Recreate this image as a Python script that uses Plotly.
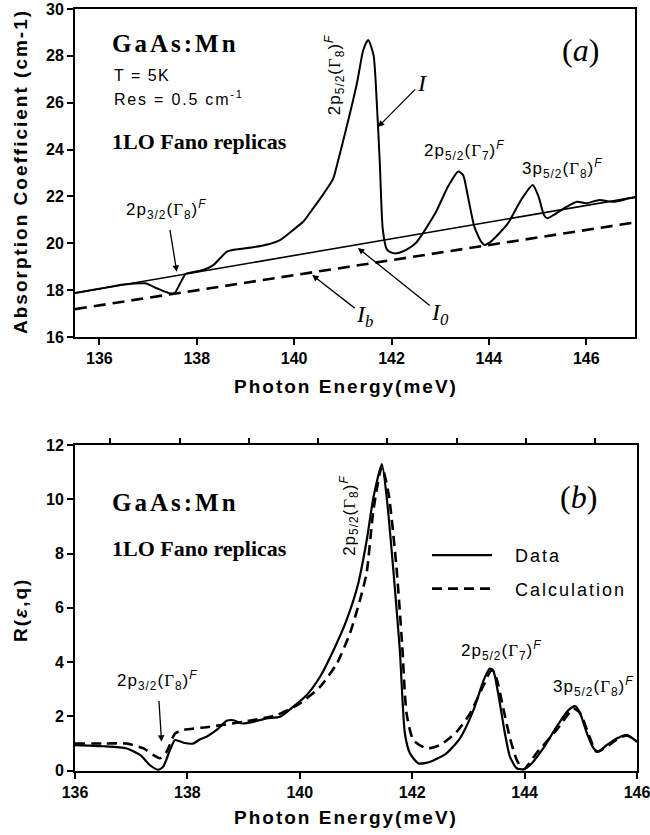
import plotly.graph_objects as go

# ---------------- data ----------------
# Panel (a): absorption spectrum I, background lines I0 and Ib
energy_a = [135.5, 136.0, 136.5, 136.94, 137.18, 137.45, 137.55, 137.66, 137.77, 137.86, 138.13, 138.34,
            138.62, 138.82, 139.15, 139.45, 139.71, 139.98, 140.2, 140.39, 140.6, 140.8, 140.9, 141.08,
            141.29, 141.42, 141.52, 141.63, 141.7, 141.76, 141.82, 141.9, 142.0, 142.1, 142.3, 142.5,
            142.9, 143.16, 143.37, 143.47, 143.57, 143.7, 143.84, 143.91, 144.04, 144.39, 144.66, 144.9,
            145.02, 145.13, 145.2, 145.33, 145.6, 145.81, 146.0, 146.27, 146.55, 146.88, 147.0]
absorption_I = [17.88, 18.06, 18.24, 18.29, 18.08, 17.86, 17.89, 18.29, 18.69, 18.74, 18.86, 19.07,
                19.64, 19.74, 19.83, 19.95, 20.14, 20.57, 20.95, 21.49, 22.1, 22.75, 23.5, 24.98,
                26.83, 28.25, 28.68, 28.04, 25.9, 23.4, 20.6, 19.75, 19.6, 19.57, 19.72, 20.01,
                21.29, 22.42, 23.06, 22.91, 21.99, 20.71, 20.07, 19.93, 20.07, 20.85, 21.85, 22.49,
                21.99, 21.21, 21.07, 21.21, 21.56, 21.77, 21.71, 21.85, 21.77, 21.92, 21.97]
line_energy = [135.5, 147.0]
I0_values = [17.88, 21.97]
Ib_values = [17.19, 20.89]

# Panel (b): R(eps,q) data and calculation
energy_data = [136.0, 136.5, 136.92, 137.16, 137.33, 137.48, 137.57, 137.69, 137.78, 137.93, 138.1, 138.22,
               138.34, 138.52, 138.7, 138.82, 138.97, 139.17, 139.41, 139.65, 139.88, 140.12, 140.36, 140.6,
               140.83, 141.04, 141.19, 141.31, 141.46, 141.55, 141.66, 141.78, 141.87, 141.96, 142.11,
               142.32, 142.61, 142.85, 143.09, 143.27, 143.38, 143.44, 143.53, 143.65, 143.74, 143.86,
               143.98, 144.1, 144.33, 144.57, 144.78, 144.9, 144.99, 145.11, 145.23, 145.31, 145.46,
               145.64, 145.82, 146.0]
R_data = [0.94, 0.9, 0.82, 0.58, 0.21, 0.03, 0.15, 0.76, 1.13, 1.03, 1.0, 1.15,
          1.25, 1.5, 1.84, 1.86, 1.74, 1.8, 1.93, 1.99, 2.35, 2.78, 3.46, 4.44,
          5.54, 6.9, 8.48, 10.07, 11.3, 10.0, 7.5, 4.44, 1.37, 0.64, 0.27,
          0.33, 0.64, 1.19, 2.23, 3.33, 3.76, 3.7, 2.84, 1.37, 0.51, 0.09,
          0.05, 0.21, 0.82, 1.62, 2.23, 2.38, 2.11, 1.37, 0.82, 0.7, 0.94,
          1.19, 1.31, 1.07]
energy_calc = [136.0, 136.5, 136.92, 137.22, 137.39, 137.51, 137.63, 137.78, 137.93, 138.4, 138.99, 139.59,
               140.0, 140.36, 140.66, 140.89, 141.07, 141.19, 141.31, 141.46, 141.58, 141.72, 141.82, 141.9,
               142.02, 142.26, 142.49, 142.79, 143.03, 143.27, 143.41, 143.5, 143.62, 143.74, 143.86,
               143.98, 144.21, 144.57, 144.87, 144.99, 145.12, 145.28, 145.46, 145.64, 145.82, 146.0]
R_calc = [1.0, 1.0, 1.0, 0.82, 0.58, 0.46, 0.7, 1.37, 1.5, 1.62, 1.8, 2.05,
          2.48, 3.09, 3.95, 5.05, 6.28, 7.3, 9.6, 11.2, 10.2, 7.5, 4.68, 2.11,
          1.13, 0.82, 0.94, 1.43, 2.11, 3.15, 3.7, 3.4, 2.3, 1.2, 0.4,
          0.05, 0.64, 1.5, 2.29, 2.11, 1.45, 0.7, 0.88, 1.15, 1.3, 1.07]

xticks_a = [136, 138, 140, 142, 144, 146]
yticks_a = [16, 18, 20, 22, 24, 26, 28, 30]
xticks_b = [136, 138, 140, 142, 144, 146]
yticks_b = [0, 2, 4, 6, 8, 10, 12]
top_ticks_b = [136.63, 137.86, 139.09, 140.33, 141.56, 142.79, 144.02, 145.25]

# ---------------- styling ----------------
SANS = "Liberation Sans, Arial, sans-serif"
SERIF = "Liberation Serif, Times New Roman, serif"
W, H = 650, 835

def px_x(p):
    return p / W

def px_y(p):
    return 1 - p / H

GAM = "<span style='font-family:Liberation Serif'>Γ</span>"
def level(n, sub, g):
    return (f"<span style='letter-spacing:1px'>{n}p<sub>{sub}</sub>({GAM}<sub>{g}</sub>)"
            f"<sup><i>F</i></sup></span>")

def bold_ticks(vals):
    return [f"<b>{v}</b>" for v in vals]

fig = go.Figure()

fig.add_trace(go.Scatter(x=energy_a, y=absorption_I, mode="lines", xaxis="x", yaxis="y",
                         line=dict(color="black", width=2, shape="spline", smoothing=0.6),
                         showlegend=False))
fig.add_trace(go.Scatter(x=line_energy, y=I0_values, mode="lines", xaxis="x", yaxis="y",
                         line=dict(color="black", width=1.6), showlegend=False))
fig.add_trace(go.Scatter(x=line_energy, y=Ib_values, mode="lines", xaxis="x", yaxis="y",
                         line=dict(color="black", width=2.6, dash="12px,7px"), showlegend=False))

fig.add_trace(go.Scatter(x=energy_data, y=R_data, mode="lines", xaxis="x2", yaxis="y2",
                         name="\u2002\u2002<span style='letter-spacing:2px'>Data</span>",
                         legendgroup="d",
                         line=dict(color="black", width=2.2, shape="spline", smoothing=0.6)))
fig.add_trace(go.Scatter(x=energy_calc, y=R_calc, mode="lines", xaxis="x2", yaxis="y2",
                         name="\u2002\u2002<span style='letter-spacing:2px'>Calculation</span>",
                         legendgroup="c",
                         line=dict(color="black", width=2.6, dash="10px,6px", shape="spline", smoothing=0.6)))
# invisible helper so the top tick axis of panel (b) is drawn
fig.add_trace(go.Scatter(x=[136], y=[0], xaxis="x3", yaxis="y2", mode="markers",
                         marker=dict(opacity=0), showlegend=False, hoverinfo="skip"))

tickfont = dict(family=SANS, size=16, color="black", weight="bold")
axis_common = dict(showline=True, linecolor="black", linewidth=2, mirror=True,
                   ticks="outside", ticklen=6, tickwidth=1.5, tickcolor="black",
                   showgrid=False, zeroline=False, tickfont=tickfont, automargin=False,
                   ticklabeloverflow="allow")

xa_dom = [px_x(75), px_x(635)]
xb_dom = [px_x(75), px_x(637)]
ya_dom = [px_y(337), px_y(9)]
yb_dom = [px_y(770.7), px_y(445)]

fig.update_layout(
    template="none",
    width=W, height=H, margin=dict(l=0, r=0, t=0, b=0, pad=0),
    paper_bgcolor="white", plot_bgcolor="white",
    xaxis=dict(domain=xa_dom, range=[135.5, 147.0], tickvals=xticks_a, ticktext=bold_ticks(xticks_a),
               anchor="y", **axis_common),
    yaxis=dict(domain=ya_dom, range=[16, 30], tickvals=yticks_a, ticktext=bold_ticks(yticks_a),
               anchor="x", **axis_common),
    xaxis2=dict(domain=xb_dom, range=[136, 146], tickvals=xticks_b, ticktext=bold_ticks(xticks_b),
                anchor="y2", **axis_common),
    yaxis2=dict(domain=yb_dom, range=[0, 12], tickvals=yticks_b, ticktext=bold_ticks(yticks_b),
                anchor="x2", **axis_common),
    xaxis3=dict(overlaying="x2", side="top", anchor="y2", range=[136, 146], tickvals=top_ticks_b,
                showticklabels=False, ticks="outside", ticklen=6, tickwidth=1.5, tickcolor="black",
                showline=False, showgrid=False, zeroline=False, automargin=False),
    legend=dict(x=px_x(427), y=px_y(537), xanchor="left", yanchor="top",
                font=dict(family=SANS, size=18, color="black"),
                bgcolor="rgba(0,0,0,0)", borderwidth=0, itemwidth=60,
                tracegroupgap=7, traceorder="grouped"),
)

ann = []
title_font = dict(family=SANS, size=19, color="black", weight="bold")
def spaced(t, s=2):
    return f"<span style='letter-spacing:{s}px'>{t}</span>"

def paper_text(text, xp, yp, font, xanchor="center", angle=0):
    return dict(text=text, x=px_x(xp), y=px_y(yp), xref="paper", yref="paper",
                xanchor=xanchor, yanchor="middle", showarrow=False, textangle=angle, font=font)

# axis titles
ann.append(paper_text(spaced("Absorption Coefficient (cm-1)", 2), 20, 172, title_font, angle=-90))
ann.append(paper_text(spaced("Photon Energy(meV)", 2), 346, 386, title_font))
ann.append(paper_text(spaced("R(<i>ε</i>,q)", 2), 20, 610, title_font, angle=-90))
ann.append(paper_text(spaced("Photon Energy(meV)", 2), 346, 817, title_font))

# panel text blocks
for yc_g, yc_lo in [(44, 141), (502, 548)]:
    ann.append(paper_text(spaced("GaAs:Mn", 3), 110, yc_g,
                          dict(family=SERIF, size=25, color="black", weight="bold"), xanchor="left"))
    ann.append(paper_text("1LO Fano replicas", 110, yc_lo,
                          dict(family=SERIF, size=22, color="black", weight="bold"), xanchor="left"))
ann.append(paper_text(spaced("T = 5K", 1.5), 112, 76, dict(family=SANS, size=16, color="black"), xanchor="left"))
ann.append(paper_text(spaced("Res = 0.5 cm<sup>-1</sup>", 1.8), 112, 98,
                      dict(family=SANS, size=16, color="black"), xanchor="left"))
ann.append(paper_text("(<i>a</i>)", 580, 50, dict(family=SERIF, size=32, color="black")))
ann.append(paper_text("(<i>b</i>)", 578, 497, dict(family=SERIF, size=32, color="black")))

lblfont = dict(family=SANS, size=17, color="black")
arrow = dict(showarrow=True, arrowhead=2, arrowsize=1, arrowwidth=1.3, arrowcolor="black")
# panel (a) level labels
ann.append(dict(text=level(2, "5/2", 8), x=140.82, y=27.18, xref="x", yref="y", textangle=-90,
                showarrow=False, font=lblfont))
ann.append(dict(text=level(2, "5/2", 7), x=143.5, y=23.98, xref="x", yref="y",
                showarrow=False, font=lblfont))
ann.append(dict(text=level(3, "5/2", 8), x=145.52, y=23.21, xref="x", yref="y",
                showarrow=False, font=lblfont))
ann.append(dict(text=level(2, "3/2", 8), x=137.59, y=18.78, ax=137.38, ay=21.46,
                xref="x", yref="y", axref="x", ayref="y", startstandoff=7, font=lblfont, **arrow))
# I, I0, Ib
ifont = dict(family=SERIF, size=24, color="black")
ann.append(dict(text="<i>I</i>", x=141.72, y=24.96, ax=142.62, ay=26.85, xref="x", yref="y",
                axref="x", ayref="y", font=ifont, **arrow))
ann.append(dict(text="<i>I<sub>b</sub></i>", x=140.37, y=18.65, ax=141.45, ay=16.9, xref="x", yref="y",
                axref="x", ayref="y", font=ifont, **arrow))
ann.append(dict(text="<i>I<sub>0</sub></i>", x=141.31, y=19.8, ax=143.0, ay=16.98, xref="x", yref="y",
                axref="x", ayref="y", font=ifont, **arrow))

# panel (b) level labels
ann.append(dict(text=level(2, "5/2", 8), x=140.88, y=9.4, xref="x2", yref="y2", textangle=-90,
                showarrow=False, font=lblfont))
ann.append(dict(text=level(2, "5/2", 7), x=143.58, y=4.44, xref="x2", yref="y2",
                showarrow=False, font=lblfont))
ann.append(dict(text=level(3, "5/2", 8), x=145.22, y=3.09, xref="x2", yref="y2",
                showarrow=False, font=lblfont))
ann.append(dict(text=level(2, "3/2", 8), x=137.54, y=1.07, ax=137.47, ay=3.34,
                xref="x2", yref="y2", axref="x2", ayref="y2", startstandoff=7, font=lblfont, **arrow))

fig.update_layout(annotations=ann)
fig.write_html("out.html", config={"displayModeBar": False},
               post_script="document.body.style.margin='0px';")
